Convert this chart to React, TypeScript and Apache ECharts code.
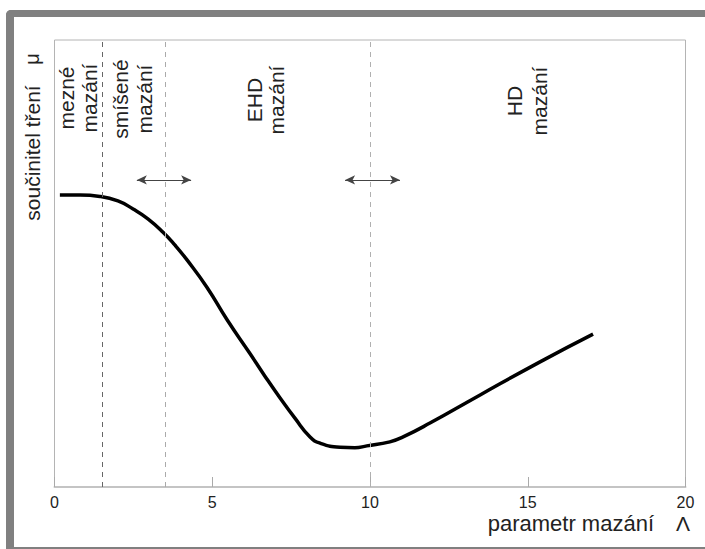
import React, { useEffect, useRef } from "react";
import * as echarts from "echarts";

// Curve: friction coefficient vs lubrication parameter
const LAMBDA = [0.17, 0.81, 1.44, 2.01, 2.49, 2.96, 3.44, 3.82, 4.2, 4.83, 5.47, 6.2, 6.67, 7.15, 7.62, 8.1, 8.42, 9.05, 9.52, 9.9, 10.63, 11.05, 11.9, 13.49, 15.39, 17.07];
const MU = [6.53, 6.53, 6.5, 6.4, 6.22, 6.0, 5.7, 5.41, 5.08, 4.47, 3.74, 2.98, 2.48, 1.99, 1.54, 1.12, 0.98, 0.89, 0.88, 0.92, 1.01, 1.12, 1.43, 2.06, 2.8, 3.42];

// Regime boundaries (dashed lines)
const BOUNDARIES = [1.5, 3.5, 10];
const BOUNDARY_COLORS = ["#666666", "#aaaaaa", "#b0b0b0"];
// Transition arrows: [from, to] in Λ, at height ARROW_MU
const ARROWS = [
  [2.61, 4.33],
  [9.21, 10.95],
];
const ARROW_MU = 6.87;

const REGIONS = ["mezné\nmazání", "smíšené\nmazání", "EHD\nmazání", "HD\nmazání"];

const FONT = '"Liberation Sans", Arial, Helvetica, sans-serif';

export default function App() {
  const ref = useRef<HTMLDivElement>(null);
  useEffect(() => {
    if (!ref.current) return;
    const chart = echarts.init(ref.current, undefined, { renderer: "svg" });
    const regionPos = [
      { x: 78, y: 98, lh: 23 },
      { x: 132, y: 99, lh: 24 },
      { x: 265, y: 100, lh: 22 },
      { x: 527, y: 101, lh: 25 },
    ];
    chart.setOption({
      animation: false,
      backgroundColor: "#ffffff",
      grid: {
        left: 54.5,
        right: 19.5,
        top: 40,
        bottom: 62,
        show: true,
        borderColor: "#b4b4b4",
        borderWidth: 1,
        outerBoundsMode: "none",
      },
      xAxis: {
        type: "value",
        min: 0,
        max: 20,
        interval: 5,
        splitLine: { show: false },
        axisLine: { show: true, lineStyle: { color: "#c4c4c4", width: 2 } },
        axisTick: { show: true, inside: true, length: 10, lineStyle: { color: "#aaaaaa" } },
        axisLabel: { color: "#222", fontSize: 16, fontFamily: FONT, margin: 7 },
      },
      yAxis: {
        type: "value",
        min: 0,
        max: 10,
        splitLine: { show: false },
        axisLine: { show: false },
        axisTick: { show: false },
        axisLabel: { show: false },
      },
      series: [
        {
          type: "line",
          data: LAMBDA.map((l, i) => [l, MU[i]]),
          smooth: 0.5,
          symbol: "none",
          lineStyle: { color: "#000", width: 3.5 },
          markLine: {
            silent: true,
            symbol: "none",
            label: { show: false },
            data: BOUNDARIES.map((b, i) => ({
              xAxis: b,
              lineStyle: { color: BOUNDARY_COLORS[i], type: [5, 5], width: 1 },
            })),
          },
        },
        {
          type: "line",
          data: [],
          markLine: {
            silent: true,
            symbol: ["arrow", "arrow"],
            symbolSize: [7, 10],
            label: { show: false },
            lineStyle: { color: "#444", type: "solid", width: 1 },
            itemStyle: { color: "#111" },
            data: ARROWS.map(([a, b]) => [
              { coord: [a, ARROW_MU] },
              { coord: [b, ARROW_MU] },
            ]),
          },
        },
      ],
      graphic: [
        {
          type: "rect",
          shape: { x: 6, y: 10, width: 699, height: 7, r: [5, 0, 0, 0] },
          style: { fill: "#808080" },
          silent: true,
        },
        {
          type: "rect",
          shape: { x: 6, y: 10, width: 8, height: 539, r: [5, 0, 0, 0] },
          style: { fill: "#808080" },
          silent: true,
        },
        {
          type: "rect",
          shape: { x: 6, y: 547, width: 699, height: 2 },
          style: { fill: "#808080" },
          silent: true,
        },
        ...REGIONS.map((t, i) => ({
          type: "text",
          x: regionPos[i].x,
          y: regionPos[i].y,
          rotation: Math.PI / 2,
          style: {
            text: t,
            fontSize: 21,
            fontFamily: FONT,
            fill: "#222",
            align: "center",
            verticalAlign: "middle",
            lineHeight: regionPos[i].lh,
          },
        })),
        {
          type: "text",
          x: 32,
          y: 153,
          rotation: Math.PI / 2,
          style: {
            text: "součinitel tření",
            fontSize: 21,
            fontFamily: FONT,
            fill: "#222",
            align: "center",
            verticalAlign: "middle",
          },
        },
        {
          type: "text",
          x: 32,
          y: 59,
          rotation: Math.PI / 2,
          style: {
            text: "μ",
            fontSize: 20,
            fontFamily: FONT,
            fill: "#222",
            align: "center",
            verticalAlign: "middle",
          },
        },
        {
          type: "text",
          x: 654,
          y: 523,
          style: {
            text: "parametr mazání",
            fontSize: 22,
            fontFamily: FONT,
            fill: "#222",
            align: "right",
            verticalAlign: "middle",
          },
        },
        {
          type: "text",
          x: 683,
          y: 523,
          style: {
            text: "Λ",
            fontSize: 21,
            fontFamily: FONT,
            fill: "#222",
            align: "center",
            verticalAlign: "middle",
          },
        },
      ],
    });
    return () => chart.dispose();
  }, []);
  return (
    <div
      ref={ref}
      style={{ position: "fixed", left: 0, top: 0, width: 705, height: 549, background: "#fff" }}
    />
  );
}
